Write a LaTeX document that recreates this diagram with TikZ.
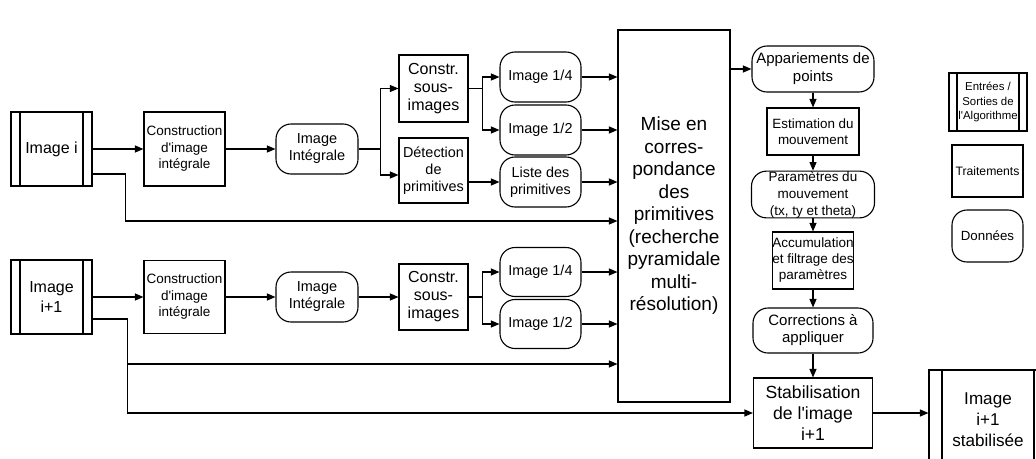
\documentclass[tikz,border=0pt]{standalone}
\usepackage{fontspec}
\setmainfont{Liberation Sans}
\usetikzlibrary{arrows.meta}
\begin{document}
\begin{tikzpicture}[x=1pt,y=-1pt,line width=1.1pt,
  proc/.style={draw,rectangle,inner sep=0pt,align=center},
  data/.style={draw,rounded corners=15pt,inner sep=0pt,align=center},
  io/.style={draw,rectangle,inner sep=0pt,align=center,
    path picture={\draw[line width=1.1pt]
      ([xshift=#1pt]path picture bounding box.north west) -- ([xshift=#1pt]path picture bounding box.south west)
      ([xshift=-#1pt]path picture bounding box.north east) -- ([xshift=-#1pt]path picture bounding box.south east);}},
  sz/.style 2 args={minimum width=#1pt,minimum height=#2pt},
  fs/.style 2 args={font=\fontsize{#1pt}{#2pt}\selectfont},
  arr/.style={-{Triangle[length=8.5pt,width=7pt]}}]
\useasboundingbox (0,0) rectangle (1036,458);

% row 1
\node[io=9,sz={81}{74},fs={16}{19}] (imgi) at (51.5,149) {Image i};
\node[proc,sz={81}{74},fs={13.5}{16.5}] (cons1) at (184.5,149) {Construction\\d\textquotesingle image\\intégrale};
\node[data,sz={82}{50},fs={14.5}{17}] (int1) at (317,149) {Image\\Intégrale};
\node[proc,sz={69}{67},fs={16}{18}] (sous1) at (433.5,88.5) {Constr.\\sous-\\images};
\node[proc,sz={69}{65},fs={14.4}{17}] (det) at (433.5,170.5) {Détection\\de\\primitives};
\node[data,sz={81}{50},fs={14.4}{17}] (q1) at (540.5,77) {Image 1/4};
\node[data,sz={81}{50},fs={14.4}{17}] (h1) at (540.5,130) {Image 1/2};
\node[data,sz={81}{50},fs={14.4}{17}] (liste) at (540.5,182) {Liste des\\primitives};

% row 2
\node[io=9,sz={81}{74},fs={16}{20}] (imgi1) at (51.5,297) {Image\\i+1};
\node[proc,sz={81}{73},fs={13.5}{16.5}] (cons2) at (184.5,297) {Construction\\d\textquotesingle image\\intégrale};
\node[data,sz={82}{50},fs={14.5}{17}] (int2) at (317,297) {Image\\Intégrale};
\node[proc,sz={69}{66},fs={16}{18}] (sous2) at (433.5,297) {Constr.\\sous-\\images};
\node[data,sz={81}{49},fs={14.4}{17}] (q2) at (540.5,272) {Image 1/4};
\node[data,sz={81}{49},fs={14.4}{17}] (h2) at (540.5,324) {Image 1/2};

% central
\node[proc,sz={112}{372},fs={19}{22.5}] (big) at (674,216) {Mise en\\corres-\\pondance\\des\\primitives\\(recherche\\pyramidale\\multi-\\résolution)};

% right column
\node[data,sz={122}{46},fs={15}{18}] (app) at (813,69) {Appariements de\\points};
\node[proc,sz={92}{47},fs={13.4}{15.5}] (est) at (813,131.5) {Estimation du\\mouvement};
\node[data,sz={123}{45},fs={13.5}{17}] (par) at (813,194.5) {Paramètres du\\mouvement\\(tx, ty et theta)};
\node[proc,sz={75}{57},fs={13.5}{16}] (acc) at (813,260.5) {Accumulation\\et filtrage des\\paramètres};
\node[data,sz={120}{45},fs={15}{17}] (corr) at (813,330.5) {Corrections à\\appliquer};
\node[proc,sz={119}{70},fs={17.6}{21}] (stab) at (813,413) {Stabilisation\\de l\textquotesingle image\\i+1};
\node[io=13,sz={118}{100},fs={17.1}{21}] (out) at (988,420) {Image\\i+1\\stabilisée};

% legend
\node[io=8,sz={78}{58},fs={11.4}{14.5}] (lio) at (988,102) {Entrées /\\Sorties de\\l\textquotesingle Algorithme};
\node[proc,sz={71}{52},fs={12.2}{14.5}] (lproc) at (987.5,171) {Traitements};
\node[data,sz={71}{52},fs={13.3}{15}] (ldata) at (987.5,236) {Données};

% connectors row 1
\draw[arr] (imgi.east) -- (cons1.west);
\draw[arr] (cons1.east) -- (int1.west);
\draw (int1.east) -- ++(22,0) coordinate (b1);
\draw[arr] (b1) |- (sous1.west);
\draw[arr] (b1) |- ([yshift=-4.5pt]det.west);
\draw (sous1.east) -- ++(14,0) coordinate (b2);
\draw[arr] (b2) |- (q1.west);
\draw[arr] (b2) |- (h1.west);
\draw[arr] (det.east |- liste.west) -- (liste.west);
\draw[arr] (q1.east) -- (q1.east -| big.west);
\draw[arr] (h1.east) -- (h1.east -| big.west);
\draw[arr] (liste.east) -- (liste.east -| big.west);
\draw[arr] ([yshift=-25pt]imgi.east) -- ++(33,0) |- (big.west |- 0,221);

% connectors row 2
\draw[arr] (imgi1.east) -- (cons2.west);
\draw[arr] (cons2.east) -- (int2.west);
\draw[arr] (int2.east) -- (sous2.west);
\draw (sous2.east) -- ++(14,0) coordinate (b4);
\draw[arr] (b4) |- (q2.west);
\draw[arr] (b4) |- (h2.west);
\draw[arr] (q2.east) -- (q2.east -| big.west);
\draw[arr] (h2.east) -- (h2.east -| big.west);
\draw ([yshift=-22pt]imgi1.east) -- ++(35,0) coordinate (b5);
\draw[arr] (b5) |- (big.west |- 0,364);
\draw[arr] (b5) |- (stab.west);

% right chain
\draw[arr] (big.east |- app.west) -- (app.west);
\draw[arr] (app.south) -- (est.north);
\draw[arr] (est.south) -- (par.north);
\draw[arr] (par.south) -- (acc.north);
\draw[arr] (acc.south) -- (corr.north);
\draw[arr] (corr.south) -- (stab.north);
\draw[arr] (stab.east) -- (stab.east -| out.west);
\end{tikzpicture}
\end{document}
